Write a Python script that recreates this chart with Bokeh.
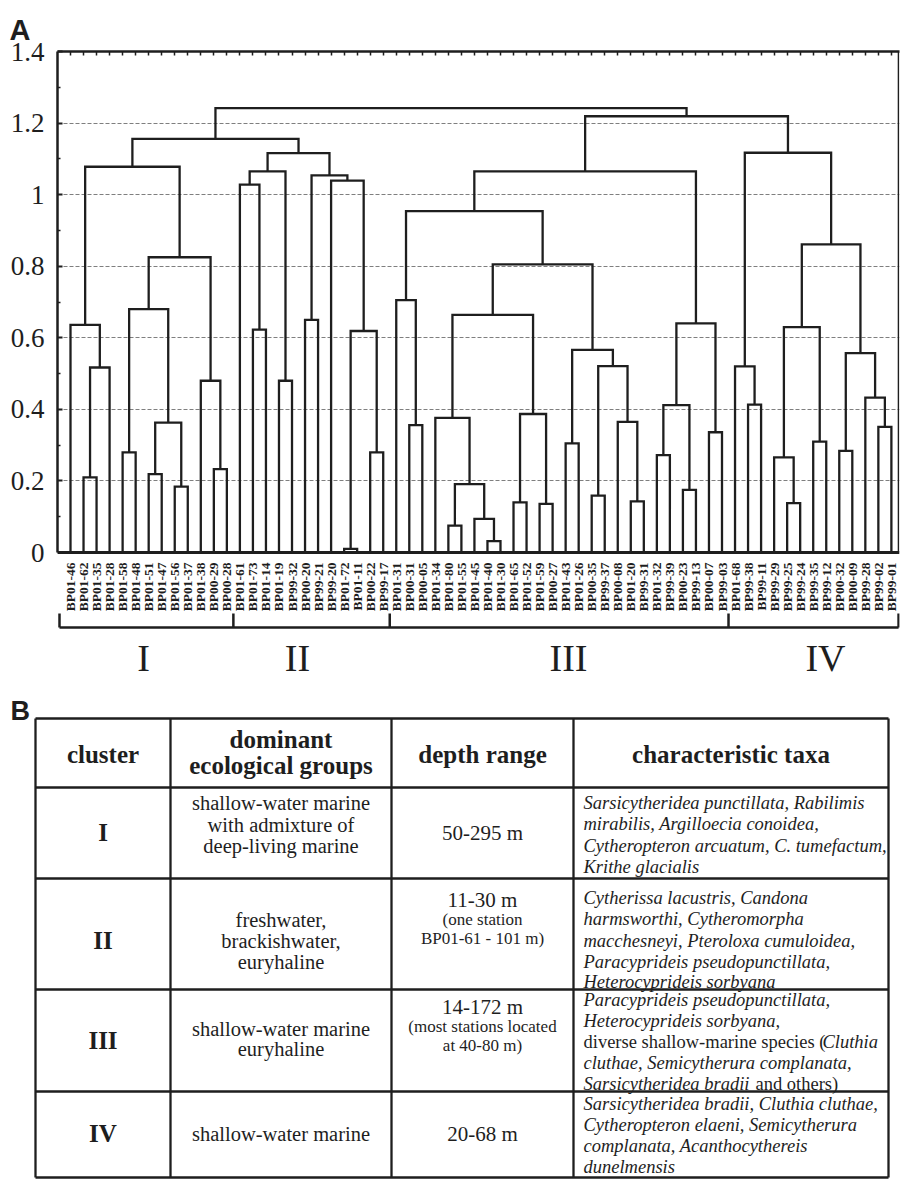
import numpy as np
from bokeh.plotting import figure
from bokeh.models import Range1d, LinearAxis, FixedTicker, CustomJSTickFormatter, Grid
from bokeh.core.properties import value
from bokeh.embed import file_html
from bokeh.resources import INLINE

# ---------------- data ----------------
leaf_labels = [
    "BP01-46", "BP01-62", "BP01-35", "BP01-28", "BP01-58", "BP01-48", "BP01-51", "BP01-47",
    "BP01-56", "BP01-37", "BP01-38", "BP00-29", "BP00-28", "BP01-61", "BP01-73", "BP01-14",
    "BP01-19", "BP99-32", "BP00-20", "BP99-21", "BP99-20", "BP01-72", "BP01-11", "BP00-22",
    "BP99-17", "BP01-31", "BP00-31", "BP00-05", "BP01-34", "BP01-80", "BP01-55", "BP01-45",
    "BP01-40", "BP01-30", "BP01-65", "BP01-52", "BP01-59", "BP00-27", "BP01-43", "BP01-26",
    "BP00-35", "BP99-37", "BP00-08", "BP01-20", "BP99-31", "BP01-32", "BP99-39", "BP00-23",
    "BP99-13", "BP00-07", "BP99-03", "BP01-68", "BP99-38", "BP99-11", "BP99-29", "BP99-25",
    "BP99-24", "BP99-35", "BP99-12", "BP00-32", "BP00-09", "BP99-28", "BP99-02", "BP99-01",
]

# linkage: node 64+k joins link_left[k] and link_right[k] at link_height[k]
link_left = [1, 64, 0, 4, 6, 8, 68, 67, 11, 10, 71, 66,
             14, 13, 16, 77, 18, 21, 23, 81, 20, 80, 79, 75,
             26, 25, 29, 32, 31, 90, 28, 34, 36, 95, 94, 38, 40, 43, 42, 100, 99, 98, 89,
             45, 47, 107, 49, 109, 106,
             52, 51, 55, 54, 57, 116, 59, 62, 61, 119, 118, 114, 112, 87]
link_right = [2, 3, 65, 5, 7, 9, 69, 70, 12, 72, 73, 74,
              15, 76, 17, 78, 19, 22, 24, 82, 83, 84, 85, 86,
              27, 88, 30, 33, 91, 92, 93, 35, 37, 96, 97, 39, 41, 44, 101, 102, 103, 104, 105,
              46, 48, 108, 50, 110, 111,
              53, 113, 56, 115, 58, 117, 60, 63, 120, 121, 122, 123, 124, 125]
link_height = [0.21, 0.517, 0.636, 0.28, 0.219, 0.184, 0.363, 0.68, 0.233, 0.48, 0.825, 1.078,
               0.623, 1.028, 0.48, 1.065, 0.65, 0.01, 0.28, 0.619, 1.039, 1.054, 1.116, 1.156,
               0.356, 0.705, 0.075, 0.032, 0.094, 0.191, 0.376, 0.14, 0.136, 0.387, 0.664,
               0.305, 0.159, 0.143, 0.365, 0.521, 0.566, 0.805, 0.954,
               0.272, 0.175, 0.412, 0.336, 0.64, 1.065,
               0.413, 0.52, 0.138, 0.266, 0.31, 0.63, 0.284, 0.351, 0.433, 0.557, 0.861,
               1.117, 1.219, 1.242]

y_ticks = [0, 0.2, 0.4, 0.6, 0.8, 1.0, 1.2, 1.4]
y_minor = [0.1, 0.3, 0.5, 0.7, 0.9, 1.1, 1.3]
cluster_names = ["I", "II", "III", "IV"]
cluster_first_leaf = [0, 13, 25, 51]

table_header = ["cluster", ["dominant", "ecological groups"], "depth range", "characteristic taxa"]
table_groups = [["shallow-water marine", "with admixture of", "deep-living marine"],
                ["freshwater,", "brackishwater,", "euryhaline"],
                ["shallow-water marine", "euryhaline"],
                ["shallow-water marine"]]
table_depth = ["50-295 m", "11-30 m", "14-172 m", "20-68 m"]
table_depth_note = [[], ["(one station", "BP01-61 - 101 m)"], ["(most stations located", "at 40-80 m)"], []]
# each line: list of (text, italic)
table_taxa = [
    [[("Sarsicytheridea punctillata, Rabilimis", True)],
     [("mirabilis, Argilloecia conoidea,", True)],
     [("Cytheropteron arcuatum, C. tumefactum,", True)],
     [("Krithe glacialis", True)]],
    [[("Cytherissa lacustris, Candona", True)],
     [("harmsworthi, Cytheromorpha", True)],
     [("macchesneyi, Pteroloxa cumuloidea,", True)],
     [("Paracyprideis pseudopunctillata,", True)],
     [("Heterocyprideis sorbyana", True)]],
    [[("Paracyprideis pseudopunctillata,", True)],
     [("Heterocyprideis sorbyana,", True)],
     [("diverse shallow-marine species (", False), ("Cluthia", True)],
     [("cluthae, Semicytherura complanata,", True)],
     [("Sarsicytheridea bradii", True), (" and others)", False)]],
    [[("Sarsicytheridea bradii, Cluthia  cluthae,", True)],
     [("Cytheropteron elaeni, Semicytherura", True)],
     [("complanata, Acanthocythereis", True)],
     [("dunelmensis", True)]],
]

INK = "#1e1e1e"
SERIF = value("Liberation Serif")
SANS = value("Liberation Sans")
PAGE_W = 901

# ---------------- figure A: dendrogram ----------------
n = len(leaf_labels)
xpos = {i: float(i) for i in range(n)}
ypos = {i: 0.0 for i in range(n)}
xs, ys = [], []
for k, (a, b, h) in enumerate(zip(link_left, link_right, link_height)):
    xa, ya, xb, yb = xpos[a], ypos[a], xpos[b], ypos[b]
    xs.append([xa, xa, xb, xb])
    ys.append([ya, h, h, yb])
    xpos[n + k] = (xa + xb) / 2.0
    ypos[n + k] = h

left_b, right_b = 57, 2
px_x = 13.03          # pixels per leaf
leaf0_px = 70         # page x of the first leaf
x0 = (left_b - leaf0_px) / px_x
x1 = (PAGE_W - right_b - leaf0_px) / px_x
frame_top, zero_px, frame_bottom = 51, 552, 684
top_b, bottom_b = frame_top, 4
px_y = (zero_px - frame_top) / 1.4
y1 = 1.4
y0 = -(frame_bottom - zero_px) / px_y
fig_h = top_b + (frame_bottom - frame_top) + bottom_b

pA = figure(width=PAGE_W, height=fig_h, x_range=Range1d(x0, x1), y_range=Range1d(y0, y1),
            output_backend="svg", toolbar_location=None, x_axis_type=None, y_axis_type=None,
            min_border_left=left_b, min_border_right=right_b, min_border_top=top_b,
            min_border_bottom=bottom_b, title="A")
pA.outline_line_color = None
pA.title.text_font = "Liberation Sans"
pA.title.text_font_size = "29px"
pA.title.text_font_style = "bold"
pA.title.text_color = INK
pA.title.align = "left"
pA.title.vertical_align = "top"
pA.title.offset = -48
pA.title.standoff = 8

grid = Grid(dimension=1, ticker=FixedTicker(ticks=y_ticks[1:-1]),
            grid_line_color="#707070", grid_line_dash="4 2", grid_line_width=0.9)
pA.add_layout(grid)

yax = LinearAxis(ticker=FixedTicker(ticks=y_ticks, minor_ticks=y_minor),
                 formatter=CustomJSTickFormatter(code="return String(Math.round(tick*10)/10);"),
                 bounds=(0, 1.4), axis_line_width=2.5, axis_line_color=INK,
                 major_tick_in=5, major_tick_out=0, minor_tick_in=3, minor_tick_out=0,
                 major_tick_line_width=2, minor_tick_line_width=1.5,
                 major_tick_line_color=INK, minor_tick_line_color=INK,
                 major_label_text_font="Liberation Serif", major_label_text_font_size="27px",
                 major_label_text_color=INK, major_label_standoff=13)
pA.add_layout(yax, "left")

tax = LinearAxis(ticker=FixedTicker(ticks=list(range(n))),
                 formatter=CustomJSTickFormatter(code="return '';"),
                 axis_line_width=2.5, axis_line_color=INK,
                 major_tick_in=4, major_tick_out=0, major_tick_line_width=1.5,
                 major_tick_line_color=INK, minor_tick_in=0, minor_tick_out=0,
                 major_label_text_font_size="0px", major_label_standoff=0)
pA.add_layout(tax, "above")

pA.multi_line(xs, ys, line_color=INK, line_width=2.3, line_join="miter")
pA.segment(x0=[x0], y0=[0], x1=[x1], y1=[0], line_color=INK, line_width=3)
pA.segment(x0=[x1 - 0.08], y0=[0], x1=[x1 - 0.08], y1=[1.4], line_color=INK, line_width=1.5)

pA.text(x=list(range(n)), y=[-0.028] * n, text=leaf_labels, angle=np.pi / 2,
        text_align="right", text_baseline="middle", text_font=SERIF,
        text_font_style="bold", text_font_size="13.5px", text_color=INK)

bounds = [-0.844] + [f - 0.5 for f in cluster_first_leaf[1:]] + [63.55]
yb = -(627 - zero_px) / px_y
yt = -(613 - zero_px) / px_y
pA.segment(x0=[bounds[0]], y0=[yb], x1=[bounds[-1]], y1=[yb], line_color=INK, line_width=2.5)
pA.segment(x0=bounds, y0=[yb] * len(bounds), x1=bounds, y1=[yt] * len(bounds),
           line_color=INK, line_width=2.5)
numeral_x = [5.6, 17.42, 38.22, 57.94]
pA.text(x=numeral_x, y=[-(657 - zero_px) / px_y] * 4, text=cluster_names, text_align="center",
        text_baseline="middle", text_font=SERIF, text_font_size="38px", text_color=INK)

# ---------------- figure B: table (coordinates = page pixels) ----------------
B_TOP = fig_h
HB = 1182 - B_TOP
pB = figure(width=PAGE_W, height=HB, x_range=Range1d(0, PAGE_W), y_range=Range1d(B_TOP + HB, B_TOP),
            output_backend="svg", toolbar_location=None, x_axis_type=None, y_axis_type=None,
            min_border=0)
pB.outline_line_color = None
pB.grid.visible = False

pB.text(x=[10], y=[710], text=["B"], text_font=SANS, text_font_style="bold",
        text_font_size="27px", text_baseline="alphabetic", text_color=INK)

col_x = [35, 170, 391, 573, 888]
row_y = [718, 787, 878, 989, 1091, 1177]
pB.segment(x0=[col_x[0]] * len(row_y), y0=row_y, x1=[col_x[-1]] * len(row_y), y1=row_y,
           line_color=INK, line_width=2.3)
pB.segment(x0=col_x, y0=[row_y[0]] * len(col_x), x1=col_x, y1=[row_y[-1]] * len(col_x),
           line_color=INK, line_width=2.3)

cx = [(col_x[i] + col_x[i + 1]) / 2 for i in range(4)]
pB.text(x=[cx[0], cx[2], cx[3]], y=[754, 754, 754],
        text=[table_header[0], table_header[2], table_header[3]],
        text_align="center", text_baseline="middle", text_font=SERIF,
        text_font_style="bold", text_font_size="25px", text_color=INK)
pB.text(x=[cx[1], cx[1]], y=[739, 765], text=table_header[1], text_align="center",
        text_baseline="middle", text_font=SERIF, text_font_style="bold",
        text_font_size="25px", text_color=INK)

num_y = [832, 940, 1040, 1133]
pB.text(x=[cx[0]] * 4, y=num_y, text=cluster_names, text_align="center",
        text_baseline="middle", text_font=SERIF, text_font_style="bold",
        text_font_size="25px", text_color=INK)

group_y = [[802, 824, 845], [919, 940, 961], [1028, 1048], [1133]]
gx, gy, gt = [], [], []
for lines, yy in zip(table_groups, group_y):
    for t, y in zip(lines, yy):
        gx.append(cx[1]); gy.append(y); gt.append(t)
pB.text(x=gx, y=gy, text=gt, text_align="center", text_baseline="middle",
        text_font=SERIF, text_font_size="20.5px", text_color=INK)

depth_y = [832, 899, 1006, 1133]
pB.text(x=[cx[2]] * 4, y=depth_y, text=table_depth, text_align="center",
        text_baseline="middle", text_font=SERIF, text_font_size="21px", text_color=INK)
note_y = [[], [919, 938], [1026, 1045], []]
nx, ny, nt = [], [], []
for lines, yy in zip(table_depth_note, note_y):
    for t, y in zip(lines, yy):
        nx.append(cx[2]); ny.append(y); nt.append(t)
pB.text(x=nx, y=ny, text=nt, text_align="center", text_baseline="middle",
        text_font=SERIF, text_font_size="17px", text_color=INK)

taxa_y = [[802, 823, 845, 866], [897, 918, 940, 961, 981], [999, 1020, 1041, 1062, 1083],
          [1103, 1124, 1145, 1166]]
seg_offsets = {("diverse shallow-marine species (", "Cluthia"): 239,
               ("Sarsicytheridea bradii", " and others)"): 172}
tx_i, ty_i, tt_i, tx_n, ty_n, tt_n = [], [], [], [], [], []
x_taxa = 583
for row, yy in zip(table_taxa, taxa_y):
    for line, y in zip(row, yy):
        xcur = x_taxa
        prev = None
        for t, ital in line:
            if prev is not None:
                xcur = x_taxa + seg_offsets[(prev, t)]
            if ital:
                tx_i.append(xcur); ty_i.append(y); tt_i.append(t)
            else:
                tx_n.append(xcur); ty_n.append(y); tt_n.append(t)
            prev = t
pB.text(x=tx_i, y=ty_i, text=tt_i, text_align="left", text_baseline="middle",
        text_font=SERIF, text_font_style="italic", text_font_size="18.5px", text_color=INK)
pB.text(x=tx_n, y=ty_n, text=tt_n, text_align="left", text_baseline="middle",
        text_font=SERIF, text_font_size="18.5px", text_color=INK)

open("out.html", "w").write(file_html([pA, pB], INLINE))
